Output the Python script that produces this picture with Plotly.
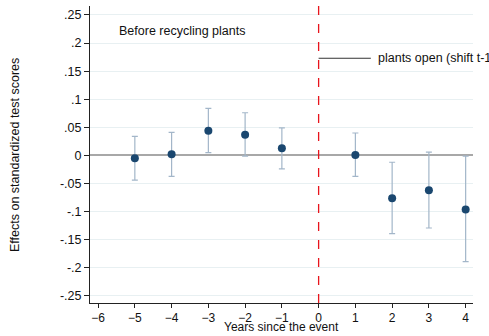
import plotly.graph_objects as go

years = [-5, -4, -3, -2, -1, 1, 2, 3, 4]
coef = [-0.005, 0.002, 0.044, 0.037, 0.013, 0.001, -0.076, -0.062, -0.096]
ci_hi = [0.034, 0.041, 0.084, 0.076, 0.049, 0.040, -0.012, 0.006, -0.001]
ci_lo = [-0.044, -0.037, 0.005, -0.001, -0.024, -0.037, -0.139, -0.129, -0.189]

x_ticks = [-6, -5, -4, -3, -2, -1, 0, 1, 2, 3, 4]
y_ticks = [0.25, 0.2, 0.15, 0.1, 0.05, 0, -0.05, -0.1, -0.15, -0.2, -0.25]
y_labels = [".25", ".2", ".15", ".1", ".05", "0", "-.05", "-.1", "-.15", "-.2", "-.25"]

FONT = "Liberation Sans, Arial, sans-serif"
FS = 12.5

fig = go.Figure()

fig.add_trace(go.Scatter(
    x=years, y=coef, mode="markers",
    marker=dict(color="#1a476f", size=8),
    error_y=dict(
        type="data", symmetric=False,
        array=[h - c for h, c in zip(ci_hi, coef)],
        arrayminus=[c - l for c, l in zip(coef, ci_lo)],
        color="#a3b6c9", thickness=1.2, width=3,
    ),
    showlegend=False,
))

# event line
fig.add_shape(type="line", xref="x", x0=0, x1=0, yref="paper", y0=0, y1=1,
              line=dict(color="#e8141c", width=1.3, dash="dash"))
# annotation connector
fig.add_shape(type="line", xref="x", x0=0, x1=1.42, yref="y", y0=0.173, y1=0.173,
              line=dict(color="#333333", width=1))

fig.add_annotation(x=-3.71, y=0.222, text="Before recycling plants", showarrow=False,
                   font=dict(family=FONT, size=FS, color="#111111"), xanchor="center")
fig.add_annotation(x=1.55, y=0.173, text="plants open (shift t-1)", showarrow=False,
                   font=dict(family=FONT, size=FS, color="#111111"), xanchor="left")

# axis titles
fig.add_annotation(xref="paper", yref="paper", x=(281 - 90) / 383, y=-(336 - 303) / 297,
                   text="Years since the event", showarrow=False, yanchor="bottom",
                   xanchor="center", font=dict(family=FONT, size=12, color="#111111"))
fig.add_annotation(xref="paper", yref="paper", x=-(90 - 15) / 383, y=(303 - 155) / 297,
                   text="Effects on standardized test scores", showarrow=False, textangle=-90,
                   xanchor="center", yanchor="middle",
                   font=dict(family=FONT, size=FS, color="#111111"))

fig.update_layout(
    width=489, height=336,
    margin=dict(l=90, r=16, t=6, b=33, autoexpand=False),
    paper_bgcolor="white", plot_bgcolor="white",
    font=dict(family=FONT, size=FS, color="#111111"),
    xaxis=dict(
        range=[-6.22, 4.2], tickvals=x_ticks, ticks="outside", ticklen=4,
        tickcolor="#222", showline=True, linecolor="#222", linewidth=1,
        showgrid=False, zeroline=False, automargin=False,
        tickfont=dict(size=12),
    ),
    yaxis=dict(
        range=[-0.2625, 0.266], tickvals=y_ticks, ticktext=y_labels,
        ticks="outside", ticklen=5, tickcolor="#222",
        showline=True, linecolor="#222", linewidth=1, automargin=False,
        showgrid=True, gridcolor="#e8f0f2", gridwidth=1,
        zeroline=True, zerolinecolor="#a8a8a8", zerolinewidth=2,
        tickfont=dict(size=FS),
    ),
)

fig.write_html("out.html", config={"displayModeBar": False, "staticPlot": True})

with open("out.html", "r", encoding="utf-8") as f:
    html = f.read()
html = html.replace("<head>", "<head><style>html,body{margin:0;padding:0;overflow:hidden;}</style>", 1)
with open("out.html", "w", encoding="utf-8") as f:
    f.write(html)
